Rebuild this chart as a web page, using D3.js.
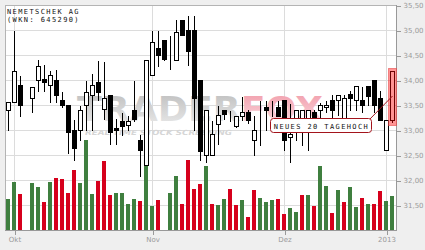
<!DOCTYPE html>
<html>
<head>
<meta charset="utf-8">
<script src="https://cdn.jsdelivr.net/npm/d3@7/dist/d3.min.js"></script>
<style>
  html, body { margin: 0; padding: 0; background: #efefef; }
  svg { display: block; }
  .pix { font-family: "DejaVu Sans Mono", monospace; font-size: 7px; letter-spacing: 1.4px; }
  .axis text { font-family: "DejaVu Sans", sans-serif; font-size: 7px; fill: #9a9a9a; }
  .axis line { stroke: #999; }
</style>
</head>
<body>
<script>
// ---- data ----
const dates = [
  "2012-09-28",
  "2012-10-01","2012-10-02","2012-10-03","2012-10-04","2012-10-05",
  "2012-10-08","2012-10-09","2012-10-10","2012-10-11","2012-10-12",
  "2012-10-15","2012-10-16","2012-10-17","2012-10-18","2012-10-19",
  "2012-10-22","2012-10-23","2012-10-24","2012-10-25","2012-10-26",
  "2012-10-29","2012-10-30","2012-10-31",
  "2012-11-01","2012-11-02",
  "2012-11-05","2012-11-06","2012-11-07","2012-11-08","2012-11-09",
  "2012-11-12","2012-11-13","2012-11-14","2012-11-15","2012-11-16",
  "2012-11-19","2012-11-20","2012-11-21","2012-11-22","2012-11-23",
  "2012-11-26","2012-11-27","2012-11-28","2012-11-29","2012-11-30",
  "2012-12-03","2012-12-04","2012-12-05","2012-12-06","2012-12-07",
  "2012-12-10","2012-12-11","2012-12-12","2012-12-13","2012-12-14",
  "2012-12-17","2012-12-18","2012-12-19","2012-12-20","2012-12-21",
  "2012-12-27","2012-12-28",
  "2013-01-02","2013-01-03"
];

const open = [33.40,33.57,33.89,33.61,33.63,33.99,34.02,33.89,34.00,33.60,
  33.50,33.00,32.99,33.50,33.70,33.97,33.43,33.70,33.05,33.18,
  33.09,33.40,32.80,32.30,34.09,34.63,34.80,34.50,34.41,35.20,
  35.00,35.00,34.00,32.50,32.50,33.12,33.40,33.30,33.08,33.29,
  33.36,32.80,33.28,33.45,33.46,33.45,33.60,32.87,33.23,33.23,
  33.24,33.35,33.39,33.45,33.59,33.59,33.23,33.72,33.59,33.60,
  33.88,33.99,33.65,32.60,33.20];
const high = [33.57,35.00,34.10,33.61,33.88,34.43,34.32,34.20,34.23,33.78,
  33.50,33.23,33.50,33.99,34.13,34.40,34.38,33.72,33.25,33.35,
  33.30,34.00,32.93,34.40,35.00,35.00,34.80,34.90,35.23,35.22,
  35.30,35.30,34.02,33.41,33.20,33.50,33.42,33.40,33.30,33.67,
  33.43,33.30,33.60,33.60,33.60,33.61,33.60,33.53,33.40,33.42,
  33.40,33.43,33.57,33.60,33.73,33.72,33.73,33.80,33.88,33.88,
  33.90,34.00,33.80,33.20,34.17];
const low = [32.99,33.57,33.29,33.61,33.35,33.79,33.79,33.57,33.57,33.45,
  32.53,32.40,32.80,33.00,33.00,33.60,33.23,32.73,32.73,32.90,
  32.99,33.17,32.08,32.30,34.09,34.29,34.40,34.23,34.41,34.90,
  34.30,33.00,32.40,32.37,32.50,32.73,33.23,33.17,33.06,33.20,
  33.15,32.50,32.70,33.00,33.27,33.28,32.60,32.35,32.80,32.70,
  32.60,33.20,33.23,33.37,33.20,33.30,33.23,33.40,33.39,33.37,
  33.50,33.37,33.20,32.60,33.16];
const close = [33.57,34.19,33.51,33.61,33.85,34.27,33.95,34.09,33.70,33.50,
  32.97,32.63,33.40,33.75,33.90,33.75,33.63,32.95,32.99,33.07,
  33.18,33.23,32.59,34.40,34.75,34.49,34.42,34.50,34.97,34.91,
  34.57,33.63,32.57,33.41,32.93,33.30,33.32,33.30,33.28,33.36,
  33.20,33.00,33.28,33.39,33.46,33.28,32.80,32.93,33.40,33.40,
  33.40,33.23,33.49,33.50,33.40,33.70,33.63,33.63,33.88,33.50,
  33.68,33.50,33.20,33.20,34.17];

// volume in thousand shares, null = no turnover reported
const volume = [31,48,36,null,47,43,28,48,52,51,
  37,60,47,90,36,49,69,35,37,37,
  26,31,29,65,24,30,null,37,54,26,
  70,41,46,64,26,25,31,41,25,30,
  13,40,32,28,30,31,16,22,18,35,
  35,24,64,44,17,40,28,43,23,32,
  26,26,39,29,34];
// direction of the day versus previous close: "u" up, "d" down
const volDir = ["u","u","d",null,"u","u","d","u","d","d",
  "d","d","u","u","u","d","d","d","u","u",
  "u","u","d","u","u","d",null,"u","u","d",
  "d","d","d","u","d","u","u","d","d","u",
  "d","d","u","u","u","d","d","u","u","d",
  "u","d","u","u","d","u","d","u","u","d",
  "u","d","d","u","u"];

const yTicks = [31.5, 32, 32.5, 33, 33.5, 34, 34.5, 35, 35.5];
const tickDates = ["2012-10-01","2012-11-01","2012-12-03","2013-01-02"];
const tickLabels = ["Okt","Nov","Dez","2013"];

const titleLines = ["NEMETSCHEK AG", "(WKN: 645290)"];
const signalText = "NEUES 20 TAGEHOCH";
const signalDate = "2013-01-03";

// ---- layout ----
const W = 425, H = 250;
const plot = {left: 5, top: 5, right: 396, bottom: 230};

const svg = d3.select('body').append('svg')
  .attr('width', W).attr('height', H)
  .attr('shape-rendering', 'crispEdges');

// gradients for the watermark
const defs = svg.append('defs');
function grad(id, c1, c2){
  const g = defs.append('linearGradient').attr('id', id)
    .attr('x1', 0).attr('y1', 0).attr('x2', 0).attr('y2', 1);
  g.append('stop').attr('offset', '0%').attr('stop-color', c1);
  g.append('stop').attr('offset', '100%').attr('stop-color', c2);
}
grad('wmGray', '#bdbdbd', '#ececec');
grad('wmPink', '#f19aa8', '#fbe2e6');

// scales
const x = d3.scalePoint().domain(dates).range([8, 392]);
const y = d3.scaleLinear().domain([31, 35.5]).range([plot.bottom, plot.top]);
const yVol = d3.scaleLinear().domain([0, 100]).range([plot.bottom, plot.bottom - 100]);

const px = d => Math.round(x(d));
const py = v => Math.round(y(v)) + 0.5;

// plot background
svg.append('rect')
  .attr('x', plot.left).attr('y', plot.top)
  .attr('width', plot.right - plot.left).attr('height', plot.bottom - plot.top)
  .attr('fill', '#fff');

// grid
const grid = svg.append('g').attr('stroke', '#dcdcdc');
grid.selectAll('line.h').data(yTicks).join('line').attr('class', 'h')
  .attr('x1', plot.left).attr('x2', plot.right)
  .attr('y1', d => py(d)).attr('y2', d => py(d));
grid.selectAll('line.v').data(tickDates).join('line').attr('class', 'v')
  .attr('x1', d => px(d) + 0.5).attr('x2', d => px(d) + 0.5)
  .attr('y1', plot.top).attr('y2', plot.bottom);

// watermark
const wm = svg.append('g').attr('shape-rendering', 'auto');
const wmText = wm.append('text')
  .attr('x', 77).attr('y', 121)
  .attr('font-family', 'DejaVu Sans').attr('font-weight', 'bold')
  .attr('font-size', 33)
  .attr('textLength', 246).attr('lengthAdjust', 'spacingAndGlyphs');
wmText.append('tspan').attr('fill', 'url(#wmGray)').text('TRADER');
wmText.append('tspan').attr('fill', 'url(#wmPink)').text('FOX');
wm.append('text')
  .attr('x', 85).attr('y', 135)
  .attr('font-family', 'DejaVu Sans').attr('font-weight', 'bold')
  .attr('font-style', 'italic').attr('font-size', 7)
  .attr('textLength', 147).attr('lengthAdjust', 'spacingAndGlyphs')
  .attr('fill', '#d6d6d6')
  .text('REAL TIME STOCK SCREENING');

// volume bars
svg.append('g').selectAll('rect')
  .data(dates.map((d, i) => ({d, v: volume[i], dir: volDir[i]})).filter(e => e.v != null))
  .join('rect')
  .attr('x', e => px(e.d) - 2)
  .attr('width', 4)
  .attr('y', e => Math.round(yVol(e.v)))
  .attr('height', e => plot.bottom - Math.round(yVol(e.v)))
  .attr('fill', e => e.dir === 'u' ? '#3f7f3f' : '#d6001c');

// candles
const candles = dates.map((d, i) => ({d, o: open[i], h: high[i], l: low[i], c: close[i]}));
const cg = svg.append('g').attr('stroke', '#000');
cg.selectAll('line').data(candles).join('line')
  .attr('x1', e => px(e.d) + 0.5).attr('x2', e => px(e.d) + 0.5)
  .attr('y1', e => py(e.h)).attr('y2', e => py(e.l));
cg.selectAll('rect').data(candles).join('rect')
  .attr('x', e => px(e.d) - 1.5)
  .attr('width', 4)
  .attr('y', e => py(Math.max(e.o, e.c)))
  .attr('height', e => py(Math.min(e.o, e.c)) - py(Math.max(e.o, e.c)))
  .attr('fill', e => e.c >= e.o ? '#fff' : '#000');

// frame
svg.append('path')
  .attr('d', `M${plot.left + 0.5},${plot.bottom}V${plot.top + 0.5}H${plot.right}`)
  .attr('fill', 'none').attr('stroke', '#b4b4b4');
svg.append('path')
  .attr('d', `M${plot.left},${plot.bottom + 0.5}H${plot.right + 0.5}V${plot.top}`)
  .attr('fill', 'none').attr('stroke', '#999');

// axes
svg.append('g').attr('class', 'axis')
  .attr('transform', `translate(${plot.right + 0.5},0.5)`)
  .call(d3.axisRight(y).tickValues(yTicks).tickSize(4).tickPadding(3).tickSizeOuter(0)
    .tickFormat(d => d3.format('.2f')(d).replace('.', ',')))
  .call(g => g.select('.domain').remove())
  .selectAll('text').attr('x', 7);

svg.append('g').attr('class', 'axis')
  .attr('transform', `translate(0.5,${plot.bottom + 0.5})`)
  .call(d3.axisBottom(x).tickValues(tickDates).tickSize(4).tickPadding(3).tickSizeOuter(0)
    .tickFormat((d, i) => tickLabels[i]))
  .call(g => g.select('.domain').remove());
svg.selectAll('.axis text').attr('shape-rendering', 'auto');

// 20-day-high signal
const si = dates.indexOf(signalDate);
const sx = px(signalDate);
const sigMid = (py(open[si]) + py(close[si])) / 2;
const label = {x: 270, y: 118, w: 101, h: 14};
const sig = svg.append('g').attr('shape-rendering', 'auto');
sig.append('rect')
  .attr('x', sx - 3.5).attr('y', py(high[si]) - 3)
  .attr('width', 8).attr('height', py(low[si]) - py(high[si]) + 6)
  .attr('fill', '#ff0000').attr('fill-opacity', 0.42)
  .attr('stroke', '#e84b4b').attr('stroke-opacity', 0.6);
sig.append('line')
  .attr('x1', label.x + label.w - 2).attr('y1', label.y + 2)
  .attr('x2', sx + 0.5).attr('y2', sigMid)
  .attr('stroke', '#a3141c');
sig.append('rect')
  .attr('x', label.x + 0.5).attr('y', label.y + 0.5)
  .attr('width', label.w).attr('height', label.h)
  .attr('rx', 3).attr('fill', '#fff').attr('stroke', '#a3141c');
sig.append('text').attr('class', 'pix')
  .attr('x', label.x + label.w / 2 + 1).attr('y', label.y + 10.5)
  .attr('text-anchor', 'middle').attr('fill', '#111')
  .text(signalText);

// title
svg.append('g').selectAll('text').data(titleLines).join('text')
  .attr('class', 'pix')
  .attr('x', 7).attr('y', (d, i) => 14 + i * 8)
  .attr('fill', '#111')
  .text(d => d);
</script>
</body>
</html>
